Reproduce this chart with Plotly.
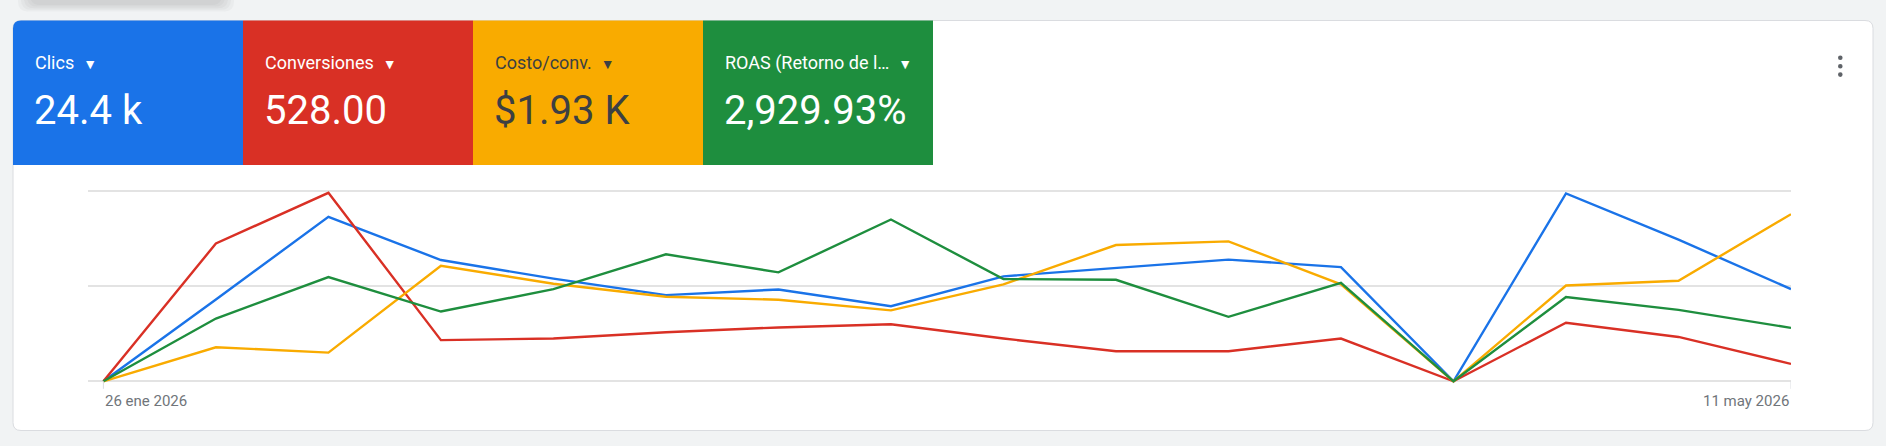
import plotly.graph_objects as go

# semanas (lunes) del informe
fechas = ["2026-01-26", "2026-02-02", "2026-02-09", "2026-02-16",
          "2026-02-23", "2026-03-02", "2026-03-09", "2026-03-16",
          "2026-03-23", "2026-03-30", "2026-04-06", "2026-04-13",
          "2026-04-20", "2026-04-27", "2026-05-04", "2026-05-11"]

clics = [0, 1247, 2509, 1850, 1566, 1314, 1401, 1146,
         1601, 1728, 1856, 1743, 0, 2865, 2161, 1407]
conversiones = [0, 87, 119, 26, 27, 31, 34, 36,
                27, 19, 19, 27, 0, 37, 28, 11]
costo_conv = [0, 716, 604, 2432, 2052, 1780, 1716, 1492,
              2040, 2868, 2944, 2040, 0, 2016, 2116, 3516]
roas = [0, 1980, 3288, 2202, 2910, 4008, 3438, 5106,
        3228, 3204, 2034, 3108, 0, 2658, 2256, 1686]

# tarjetas de resumen
etiquetas = ["Clics", "Conversiones", "Costo/conv.", "ROAS (Retorno de l\u2026"]
totales = ["24.4 k", "528.00", "$1.93 K", "2,929.93%"]

# escala propia de cada metrica (ejes ocultos)
max_clics = 2900
max_conv = 120
max_costo = 4000
max_roas = 6000

W, H = 1886, 446
colores = ["#1a73e8", "#d93025", "#f9ab00", "#1e8e3e"]
texto_col = ["#ffffff", "#ffffff", "#3c4043", "#ffffff"]


def X(p):
    return p / W


def Y(p):
    return 1 - p / H


def round_rect(x0, y0, x1, y1, r=(0, 0, 0, 0)):
    tl, tr, br, bl = r
    return (f"M {X(x0 + tl)} {Y(y0)} L {X(x1 - tr)} {Y(y0)} "
            f"Q {X(x1)} {Y(y0)} {X(x1)} {Y(y0 + tr)} L {X(x1)} {Y(y1 - br)} "
            f"Q {X(x1)} {Y(y1)} {X(x1 - br)} {Y(y1)} L {X(x0 + bl)} {Y(y1)} "
            f"Q {X(x0)} {Y(y1)} {X(x0)} {Y(y1 - bl)} L {X(x0)} {Y(y0 + tl)} "
            f"Q {X(x0)} {Y(y0)} {X(x0 + tl)} {Y(y0)} Z")


fig = go.Figure()

series = [(clics, "y", "Clics"), (conversiones, "y2", "Conversiones"),
          (costo_conv, "y3", "Costo/conv."), (roas, "y4", "ROAS")]
for (vals, eje, nombre), col in zip(series, colores):
    fig.add_trace(go.Scatter(x=fechas, y=vals, yaxis=eje, name=nombre,
                             mode="lines", line=dict(color=col, width=2.4),
                             showlegend=False))

# area de trazado en pixeles
grid_top, grid_bot = 191.2, 381.3
pad = 0.02
alto = grid_bot - grid_top
dom_y = [Y(grid_bot + pad * alto), Y(grid_top - pad * alto)]


def rango(m):
    return [-pad * m, m * (1 + pad)]


fig.update_layout(
    width=W, height=H,
    margin=dict(l=0, r=0, t=0, b=0),
    paper_bgcolor="#f1f3f4",
    plot_bgcolor="rgba(0,0,0,0)",
    font=dict(family="Roboto"),
    xaxis=dict(domain=[X(88), X(1791)], type="date",
               range=["2026-01-25 01:00", "2026-05-11"],
               showticklabels=False, showgrid=False, zeroline=False,
               showline=False, fixedrange=True),
    yaxis=dict(domain=dom_y, range=rango(max_clics),
               tickvals=[0, max_clics / 2, max_clics],
               showticklabels=False, showgrid=True, gridcolor="#e3e3e3",
               gridwidth=1.6, zeroline=False),
    yaxis2=dict(overlaying="y", range=rango(max_conv), visible=False),
    yaxis3=dict(overlaying="y", range=rango(max_costo), visible=False),
    yaxis4=dict(overlaying="y", range=rango(max_roas), visible=False),
)

shapes = []
# sombra de la barra superior
for i in range(5):
    shapes.append(dict(type="path", xref="paper", yref="paper", layer="below",
                       path=round_rect(30 - 3 * i, -30, 222 + 3 * i, 5 + 1.6 * i,
                                       r=(0, 0, 10, 10)),
                       fillcolor="rgba(60,64,67,0.035)", line=dict(width=0)))
# tarjeta
shapes.append(dict(type="path", xref="paper", yref="paper", layer="below",
                   path=round_rect(13, 20.5, 1873, 430.5, r=(8, 8, 8, 8)),
                   fillcolor="#ffffff", line=dict(color="#dadce0", width=1)))
# mosaicos de metricas
bordes = [13, 243, 473, 703, 933]
for i, col in enumerate(colores):
    r = (8, 0, 0, 0) if i == 0 else (0, 0, 0, 0)
    shapes.append(dict(type="path", xref="paper", yref="paper", layer="below",
                       path=round_rect(bordes[i], 20.5, bordes[i + 1], 165, r=r),
                       fillcolor=col, line=dict(width=0)))
# menu de tres puntos
for cy in (57.7, 66.2, 74.6):
    shapes.append(dict(type="circle", xref="paper", yref="paper",
                       x0=X(1838), x1=X(1842.6), y0=Y(cy + 2.3), y1=Y(cy - 2.3),
                       fillcolor="#5f6368", line=dict(width=0)))
# marcas de eje en la primera y ultima fecha
for f in (fechas[0], fechas[-1]):
    shapes.append(dict(type="line", xref="x", yref="paper", x0=f, x1=f,
                       y0=Y(grid_bot), y1=Y(grid_bot + 7.5),
                       line=dict(color="#dadce0", width=1)))
fig.update_layout(shapes=shapes)

ann = []
for i in range(4):
    ann.append(dict(xref="paper", yref="paper", x=X(bordes[i] + 20), y=Y(63),
                    xanchor="left", yanchor="middle", showarrow=False,
                    text=etiquetas[i] + "  <span style='font-size:14px'>\u25bc</span>",
                    font=dict(size=18, color=texto_col[i], family="Roboto")))
    ann.append(dict(xref="paper", yref="paper", x=X(bordes[i] + 19), y=Y(111),
                    xanchor="left", yanchor="middle", showarrow=False,
                    text=totales[i],
                    font=dict(size=40, color=texto_col[i], family="Roboto")))
ann.append(dict(xref="x", yref="paper", x=fechas[0], y=Y(401), xanchor="left",
                yanchor="middle", showarrow=False, text="26 ene 2026",
                font=dict(size=15, color="#70757a", family="Roboto")))
ann.append(dict(xref="x", yref="paper", x=fechas[-1], y=Y(401), xanchor="right",
                yanchor="middle", showarrow=False, text="11 may 2026",
                font=dict(size=15, color="#70757a", family="Roboto")))
fig.update_layout(annotations=ann)

# sin margen del body para que la figura ocupe la ventana exacta
fig.write_html("out.html", config={"displayModeBar": False},
               post_script="document.body.style.margin='0';")
